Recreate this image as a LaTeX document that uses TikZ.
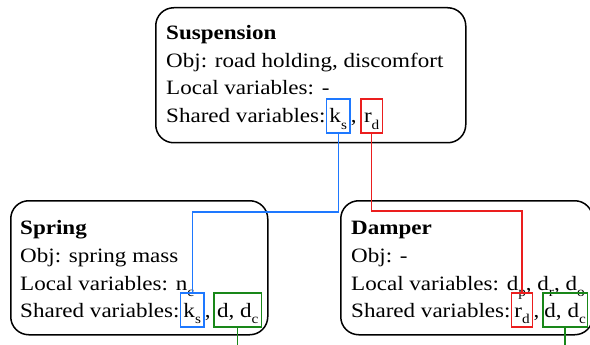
\documentclass[tikz,border=0pt]{standalone}
\usepackage{graphicx}
\usepackage{fontspec}
\setmainfont{Liberation Serif}
\definecolor{lblue}{RGB}{30,120,255}
\definecolor{lred}{RGB}{235,30,30}
\definecolor{lgreen}{RGB}{25,135,25}
\newcommand\sbx[1]{\raisebox{-6.5pt}{\fontsize{13.5}{14}\selectfont #1}}
\newcommand\hs[1]{\scalebox{1.13}[1]{#1}}
\tikzset{
  bigbox/.style={draw, rounded corners=18pt, line width=1.5pt, anchor=north west, inner sep=0pt},
  txt/.style={anchor=base west, inner sep=0pt, font=\fontsize{20.4}{24}\selectfont},
  vbox/.style={draw=#1, line width=1.4pt, anchor=base west, inner xsep=3pt, inner ysep=4pt,
               text height=20pt, text depth=6pt, font=\fontsize{20.4}{24}\selectfont},
  sepr/.style={anchor=base west, inner sep=0pt, font=\fontsize{20.4}{24}\selectfont},
  link/.style={line width=1.4pt}
}
\begin{document}
\begin{tikzpicture}[x=1pt,y=-1pt]
\useasboundingbox (0,0) rectangle (590,345);
% big boxes
\node[bigbox, minimum width=310pt, minimum height=135pt] (susp) at (155,7) {};
\node[bigbox, minimum width=257pt, minimum height=134pt] (spring) at (10,200) {};
\node[bigbox, minimum width=252pt, minimum height=134pt] (damper) at (340,200) {};
% Suspension text
\node[txt] (s1) at (166,40) {\hs{\textbf{Suspension}}};
\node[txt] (s2) at (166,68) {\hs{Obj: road holding, discomfort}};
\node[txt] (s3) at (166,95) {\hs{Local variables: -}};
\node[txt] (s4) at (166,123) {\hs{Shared variables:}};
\node[vbox=lblue] (sks) at (s4.base east) {\hs{k\sbx{s}}};
\node[sepr] (sc1) at (sks.base east) {\hs{,}\kern3.5pt};
\node[vbox=lred] (srd) at (sc1.base east) {\hs{r\sbx{d}}};
% Spring text
\node[txt] (p1) at (20,234) {\hs{\textbf{Spring}}};
\node[txt] (p2) at (20,262) {\hs{Obj: spring mass}};
\node[txt] (p3) at (20,290) {\hs{Local variables: n\sbx{c}}};
\node[txt] (p4) at (20,317) {\hs{Shared variables:}};
\node[vbox=lblue] (pks) at (p4.base east) {\hs{k\sbx{s}}};
\node[sepr] (pc1) at (pks.base east) {\hs{,}\kern2.5pt};
\node[vbox=lgreen] (pdd) at (pc1.base east) {\hs{d, d\sbx{c}}};
% Damper text
\node[txt] (d1) at (351,234) {\hs{\textbf{Damper}}};
\node[txt] (d2) at (351,262) {\hs{Obj: -}};
\node[txt] (d3) at (351,290) {\hs{Local variables: d\sbx{p}, d\sbx{r}, d\sbx{o}}};
\node[txt] (d4) at (351,317) {\hs{Shared variables:}};
\node[vbox=lred] (drd) at (d4.base east) {\hs{r\sbx{d}}};
\node[sepr] (dc1) at (drd.base east) {\hs{,}\kern2.5pt};
\node[vbox=lgreen, inner xsep=1.6pt] (ddd) at (dc1.base east) {\hs{d, d\sbx{c}}};
% connectors
\draw[link, lblue] (sks.south) -- (sks.south |- 0,212) -| (pks.north);
\draw[link, lred] (srd.south) -- (srd.south |- 0,211) -| (drd.north);
\coordinate (pend) at (pdd.south |- 0,345);
\coordinate (dend) at (ddd.south |- 0,345);
\draw[link, lgreen] (pdd.south) -- (pend);
\draw[link, lgreen] (ddd.south) -- (dend);
\end{tikzpicture}
\end{document}
